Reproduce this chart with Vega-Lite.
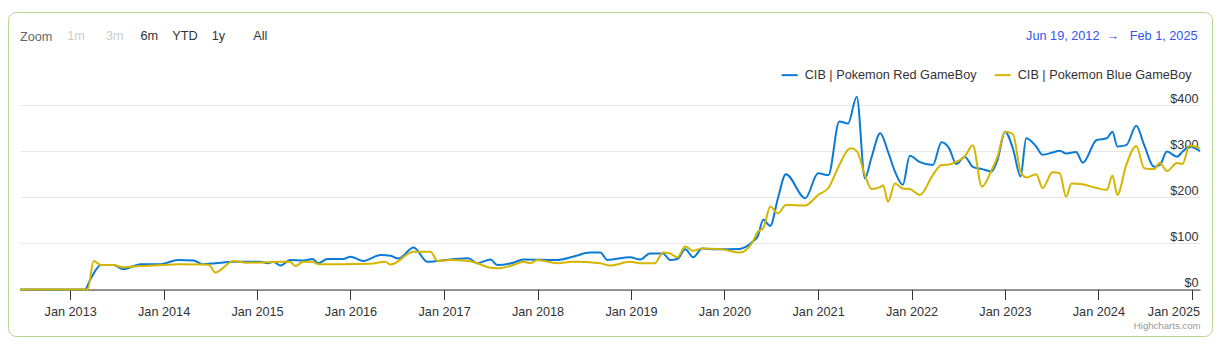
{
  "$schema": "https://vega.github.io/schema/vega-lite/v6.json",
  "width": 1204,
  "height": 324,
  "autosize": {"type": "none"},
  "padding": {"left": 8, "top": 12, "right": 10, "bottom": 15},
  "background": "white",
  "config": {
    "font": "Liberation Sans",
    "view": {"stroke": "#b4d68f", "strokeWidth": 1, "cornerRadius": 8}
  },
  "title": {
    "text": "Zoom",
    "anchor": "start",
    "frame": "group",
    "orient": "top",
    "dx": 12,
    "dy": 42,
    "offset": 0,
    "color": "#666666",
    "font": "Liberation Sans",
    "fontSize": 12.7,
    "fontWeight": "normal",
    "baseline": "alphabetic"
  },
  "data": {
    "values": [
      {"date": "2012-06-19", "series": "CIB | Pokemon Red GameBoy", "price": 0},
      {"date": "2013-02-28", "series": "CIB | Pokemon Red GameBoy", "price": 0},
      {"date": "2013-03-21", "series": "CIB | Pokemon Red GameBoy", "price": 22},
      {"date": "2013-05-01", "series": "CIB | Pokemon Red GameBoy", "price": 53},
      {"date": "2013-06-19", "series": "CIB | Pokemon Red GameBoy", "price": 53},
      {"date": "2013-07-28", "series": "CIB | Pokemon Red GameBoy", "price": 44},
      {"date": "2013-10-03", "series": "CIB | Pokemon Red GameBoy", "price": 55},
      {"date": "2013-12-21", "series": "CIB | Pokemon Red GameBoy", "price": 55},
      {"date": "2014-02-26", "series": "CIB | Pokemon Red GameBoy", "price": 64},
      {"date": "2014-04-28", "series": "CIB | Pokemon Red GameBoy", "price": 63},
      {"date": "2014-06-03", "series": "CIB | Pokemon Red GameBoy", "price": 55},
      {"date": "2014-07-22", "series": "CIB | Pokemon Red GameBoy", "price": 57},
      {"date": "2014-10-01", "series": "CIB | Pokemon Red GameBoy", "price": 60},
      {"date": "2015-01-15", "series": "CIB | Pokemon Red GameBoy", "price": 60},
      {"date": "2015-02-12", "series": "CIB | Pokemon Red GameBoy", "price": 57},
      {"date": "2015-03-06", "series": "CIB | Pokemon Red GameBoy", "price": 60},
      {"date": "2015-04-03", "series": "CIB | Pokemon Red GameBoy", "price": 52},
      {"date": "2015-05-10", "series": "CIB | Pokemon Red GameBoy", "price": 64},
      {"date": "2015-07-01", "series": "CIB | Pokemon Red GameBoy", "price": 63},
      {"date": "2015-08-06", "series": "CIB | Pokemon Red GameBoy", "price": 66},
      {"date": "2015-08-28", "series": "CIB | Pokemon Red GameBoy", "price": 57},
      {"date": "2015-10-03", "series": "CIB | Pokemon Red GameBoy", "price": 66},
      {"date": "2015-12-04", "series": "CIB | Pokemon Red GameBoy", "price": 66},
      {"date": "2016-01-01", "series": "CIB | Pokemon Red GameBoy", "price": 71},
      {"date": "2016-02-21", "series": "CIB | Pokemon Red GameBoy", "price": 62},
      {"date": "2016-04-28", "series": "CIB | Pokemon Red GameBoy", "price": 75},
      {"date": "2016-06-06", "series": "CIB | Pokemon Red GameBoy", "price": 73},
      {"date": "2016-07-06", "series": "CIB | Pokemon Red GameBoy", "price": 67},
      {"date": "2016-09-04", "series": "CIB | Pokemon Red GameBoy", "price": 91},
      {"date": "2016-10-28", "series": "CIB | Pokemon Red GameBoy", "price": 60},
      {"date": "2017-01-25", "series": "CIB | Pokemon Red GameBoy", "price": 65},
      {"date": "2017-04-06", "series": "CIB | Pokemon Red GameBoy", "price": 68},
      {"date": "2017-05-10", "series": "CIB | Pokemon Red GameBoy", "price": 57},
      {"date": "2017-07-01", "series": "CIB | Pokemon Red GameBoy", "price": 65},
      {"date": "2017-07-28", "series": "CIB | Pokemon Red GameBoy", "price": 53},
      {"date": "2017-09-28", "series": "CIB | Pokemon Red GameBoy", "price": 58},
      {"date": "2017-11-06", "series": "CIB | Pokemon Red GameBoy", "price": 65},
      {"date": "2018-03-18", "series": "CIB | Pokemon Red GameBoy", "price": 64},
      {"date": "2018-05-19", "series": "CIB | Pokemon Red GameBoy", "price": 71},
      {"date": "2018-07-25", "series": "CIB | Pokemon Red GameBoy", "price": 80},
      {"date": "2018-09-03", "series": "CIB | Pokemon Red GameBoy", "price": 80},
      {"date": "2018-10-01", "series": "CIB | Pokemon Red GameBoy", "price": 64},
      {"date": "2018-12-28", "series": "CIB | Pokemon Red GameBoy", "price": 70},
      {"date": "2019-02-06", "series": "CIB | Pokemon Red GameBoy", "price": 65},
      {"date": "2019-03-16", "series": "CIB | Pokemon Red GameBoy", "price": 78},
      {"date": "2019-05-06", "series": "CIB | Pokemon Red GameBoy", "price": 78},
      {"date": "2019-06-03", "series": "CIB | Pokemon Red GameBoy", "price": 64},
      {"date": "2019-07-01", "series": "CIB | Pokemon Red GameBoy", "price": 66},
      {"date": "2019-08-01", "series": "CIB | Pokemon Red GameBoy", "price": 87},
      {"date": "2019-09-01", "series": "CIB | Pokemon Red GameBoy", "price": 70},
      {"date": "2019-10-06", "series": "CIB | Pokemon Red GameBoy", "price": 89},
      {"date": "2019-11-25", "series": "CIB | Pokemon Red GameBoy", "price": 87},
      {"date": "2020-03-01", "series": "CIB | Pokemon Red GameBoy", "price": 88},
      {"date": "2020-04-21", "series": "CIB | Pokemon Red GameBoy", "price": 104},
      {"date": "2020-05-10", "series": "CIB | Pokemon Red GameBoy", "price": 115},
      {"date": "2020-06-01", "series": "CIB | Pokemon Red GameBoy", "price": 151},
      {"date": "2020-06-28", "series": "CIB | Pokemon Red GameBoy", "price": 138},
      {"date": "2020-07-28", "series": "CIB | Pokemon Red GameBoy", "price": 198},
      {"date": "2020-08-28", "series": "CIB | Pokemon Red GameBoy", "price": 250},
      {"date": "2020-11-12", "series": "CIB | Pokemon Red GameBoy", "price": 198},
      {"date": "2021-01-01", "series": "CIB | Pokemon Red GameBoy", "price": 252},
      {"date": "2021-02-10", "series": "CIB | Pokemon Red GameBoy", "price": 248},
      {"date": "2021-03-25", "series": "CIB | Pokemon Red GameBoy", "price": 364},
      {"date": "2021-04-28", "series": "CIB | Pokemon Red GameBoy", "price": 360},
      {"date": "2021-06-01", "series": "CIB | Pokemon Red GameBoy", "price": 418},
      {"date": "2021-07-03", "series": "CIB | Pokemon Red GameBoy", "price": 241},
      {"date": "2021-07-28", "series": "CIB | Pokemon Red GameBoy", "price": 285},
      {"date": "2021-09-01", "series": "CIB | Pokemon Red GameBoy", "price": 339},
      {"date": "2021-10-01", "series": "CIB | Pokemon Red GameBoy", "price": 299},
      {"date": "2021-10-28", "series": "CIB | Pokemon Red GameBoy", "price": 256},
      {"date": "2021-11-28", "series": "CIB | Pokemon Red GameBoy", "price": 227},
      {"date": "2021-12-25", "series": "CIB | Pokemon Red GameBoy", "price": 290},
      {"date": "2022-02-03", "series": "CIB | Pokemon Red GameBoy", "price": 276},
      {"date": "2022-03-25", "series": "CIB | Pokemon Red GameBoy", "price": 270},
      {"date": "2022-04-28", "series": "CIB | Pokemon Red GameBoy", "price": 319},
      {"date": "2022-05-28", "series": "CIB | Pokemon Red GameBoy", "price": 306},
      {"date": "2022-06-25", "series": "CIB | Pokemon Red GameBoy", "price": 272},
      {"date": "2022-07-28", "series": "CIB | Pokemon Red GameBoy", "price": 288},
      {"date": "2022-08-28", "series": "CIB | Pokemon Red GameBoy", "price": 266},
      {"date": "2022-10-03", "series": "CIB | Pokemon Red GameBoy", "price": 261},
      {"date": "2022-11-10", "series": "CIB | Pokemon Red GameBoy", "price": 256},
      {"date": "2022-12-03", "series": "CIB | Pokemon Red GameBoy", "price": 281},
      {"date": "2023-01-01", "series": "CIB | Pokemon Red GameBoy", "price": 342},
      {"date": "2023-02-01", "series": "CIB | Pokemon Red GameBoy", "price": 306},
      {"date": "2023-03-03", "series": "CIB | Pokemon Red GameBoy", "price": 245},
      {"date": "2023-03-25", "series": "CIB | Pokemon Red GameBoy", "price": 328},
      {"date": "2023-05-03", "series": "CIB | Pokemon Red GameBoy", "price": 310},
      {"date": "2023-05-28", "series": "CIB | Pokemon Red GameBoy", "price": 292},
      {"date": "2023-07-06", "series": "CIB | Pokemon Red GameBoy", "price": 297},
      {"date": "2023-08-03", "series": "CIB | Pokemon Red GameBoy", "price": 301},
      {"date": "2023-08-28", "series": "CIB | Pokemon Red GameBoy", "price": 295},
      {"date": "2023-10-06", "series": "CIB | Pokemon Red GameBoy", "price": 298},
      {"date": "2023-11-01", "series": "CIB | Pokemon Red GameBoy", "price": 275},
      {"date": "2023-12-25", "series": "CIB | Pokemon Red GameBoy", "price": 324},
      {"date": "2024-02-03", "series": "CIB | Pokemon Red GameBoy", "price": 328},
      {"date": "2024-02-25", "series": "CIB | Pokemon Red GameBoy", "price": 342},
      {"date": "2024-03-15", "series": "CIB | Pokemon Red GameBoy", "price": 310},
      {"date": "2024-04-19", "series": "CIB | Pokemon Red GameBoy", "price": 313},
      {"date": "2024-05-28", "series": "CIB | Pokemon Red GameBoy", "price": 355},
      {"date": "2024-06-28", "series": "CIB | Pokemon Red GameBoy", "price": 313},
      {"date": "2024-08-06", "series": "CIB | Pokemon Red GameBoy", "price": 266},
      {"date": "2024-08-28", "series": "CIB | Pokemon Red GameBoy", "price": 270},
      {"date": "2024-09-25", "series": "CIB | Pokemon Red GameBoy", "price": 299},
      {"date": "2024-11-03", "series": "CIB | Pokemon Red GameBoy", "price": 288},
      {"date": "2024-11-25", "series": "CIB | Pokemon Red GameBoy", "price": 299},
      {"date": "2024-12-22", "series": "CIB | Pokemon Red GameBoy", "price": 310},
      {"date": "2025-02-01", "series": "CIB | Pokemon Red GameBoy", "price": 300},

      {"date": "2012-06-19", "series": "CIB | Pokemon Blue GameBoy", "price": 0},
      {"date": "2013-03-10", "series": "CIB | Pokemon Blue GameBoy", "price": 0},
      {"date": "2013-04-03", "series": "CIB | Pokemon Blue GameBoy", "price": 62},
      {"date": "2013-05-01", "series": "CIB | Pokemon Blue GameBoy", "price": 53},
      {"date": "2013-06-19", "series": "CIB | Pokemon Blue GameBoy", "price": 53},
      {"date": "2013-07-28", "series": "CIB | Pokemon Blue GameBoy", "price": 48},
      {"date": "2013-10-03", "series": "CIB | Pokemon Blue GameBoy", "price": 51},
      {"date": "2013-12-21", "series": "CIB | Pokemon Blue GameBoy", "price": 53},
      {"date": "2014-02-26", "series": "CIB | Pokemon Blue GameBoy", "price": 55},
      {"date": "2014-06-03", "series": "CIB | Pokemon Blue GameBoy", "price": 54},
      {"date": "2014-06-28", "series": "CIB | Pokemon Blue GameBoy", "price": 53},
      {"date": "2014-07-22", "series": "CIB | Pokemon Blue GameBoy", "price": 37},
      {"date": "2014-10-01", "series": "CIB | Pokemon Blue GameBoy", "price": 62},
      {"date": "2014-11-18", "series": "CIB | Pokemon Blue GameBoy", "price": 58},
      {"date": "2015-02-12", "series": "CIB | Pokemon Blue GameBoy", "price": 59},
      {"date": "2015-04-03", "series": "CIB | Pokemon Blue GameBoy", "price": 60},
      {"date": "2015-05-10", "series": "CIB | Pokemon Blue GameBoy", "price": 60},
      {"date": "2015-05-31", "series": "CIB | Pokemon Blue GameBoy", "price": 51},
      {"date": "2015-07-01", "series": "CIB | Pokemon Blue GameBoy", "price": 60},
      {"date": "2015-08-06", "series": "CIB | Pokemon Blue GameBoy", "price": 60},
      {"date": "2015-08-28", "series": "CIB | Pokemon Blue GameBoy", "price": 55},
      {"date": "2015-12-04", "series": "CIB | Pokemon Blue GameBoy", "price": 55},
      {"date": "2016-03-18", "series": "CIB | Pokemon Blue GameBoy", "price": 56},
      {"date": "2016-05-16", "series": "CIB | Pokemon Blue GameBoy", "price": 60},
      {"date": "2016-06-06", "series": "CIB | Pokemon Blue GameBoy", "price": 54},
      {"date": "2016-09-04", "series": "CIB | Pokemon Blue GameBoy", "price": 82},
      {"date": "2016-11-09", "series": "CIB | Pokemon Blue GameBoy", "price": 82},
      {"date": "2016-12-06", "series": "CIB | Pokemon Blue GameBoy", "price": 62},
      {"date": "2017-01-25", "series": "CIB | Pokemon Blue GameBoy", "price": 64},
      {"date": "2017-04-06", "series": "CIB | Pokemon Blue GameBoy", "price": 62},
      {"date": "2017-05-10", "series": "CIB | Pokemon Blue GameBoy", "price": 57},
      {"date": "2017-07-01", "series": "CIB | Pokemon Blue GameBoy", "price": 47},
      {"date": "2017-07-28", "series": "CIB | Pokemon Blue GameBoy", "price": 46},
      {"date": "2017-09-28", "series": "CIB | Pokemon Blue GameBoy", "price": 53},
      {"date": "2017-11-06", "series": "CIB | Pokemon Blue GameBoy", "price": 60},
      {"date": "2017-12-04", "series": "CIB | Pokemon Blue GameBoy", "price": 57},
      {"date": "2018-01-01", "series": "CIB | Pokemon Blue GameBoy", "price": 64},
      {"date": "2018-03-18", "series": "CIB | Pokemon Blue GameBoy", "price": 57},
      {"date": "2018-05-19", "series": "CIB | Pokemon Blue GameBoy", "price": 60},
      {"date": "2018-09-03", "series": "CIB | Pokemon Blue GameBoy", "price": 57},
      {"date": "2018-10-10", "series": "CIB | Pokemon Blue GameBoy", "price": 52},
      {"date": "2018-12-28", "series": "CIB | Pokemon Blue GameBoy", "price": 60},
      {"date": "2019-02-06", "series": "CIB | Pokemon Blue GameBoy", "price": 57},
      {"date": "2019-04-04", "series": "CIB | Pokemon Blue GameBoy", "price": 57},
      {"date": "2019-05-06", "series": "CIB | Pokemon Blue GameBoy", "price": 80},
      {"date": "2019-06-03", "series": "CIB | Pokemon Blue GameBoy", "price": 78},
      {"date": "2019-07-01", "series": "CIB | Pokemon Blue GameBoy", "price": 70},
      {"date": "2019-08-01", "series": "CIB | Pokemon Blue GameBoy", "price": 93},
      {"date": "2019-09-01", "series": "CIB | Pokemon Blue GameBoy", "price": 84},
      {"date": "2019-10-06", "series": "CIB | Pokemon Blue GameBoy", "price": 89},
      {"date": "2019-12-25", "series": "CIB | Pokemon Blue GameBoy", "price": 87},
      {"date": "2020-03-01", "series": "CIB | Pokemon Blue GameBoy", "price": 80},
      {"date": "2020-04-21", "series": "CIB | Pokemon Blue GameBoy", "price": 104},
      {"date": "2020-05-10", "series": "CIB | Pokemon Blue GameBoy", "price": 125},
      {"date": "2020-06-01", "series": "CIB | Pokemon Blue GameBoy", "price": 133},
      {"date": "2020-06-28", "series": "CIB | Pokemon Blue GameBoy", "price": 180},
      {"date": "2020-07-28", "series": "CIB | Pokemon Blue GameBoy", "price": 165},
      {"date": "2020-08-28", "series": "CIB | Pokemon Blue GameBoy", "price": 183},
      {"date": "2020-11-12", "series": "CIB | Pokemon Blue GameBoy", "price": 182},
      {"date": "2021-01-01", "series": "CIB | Pokemon Blue GameBoy", "price": 205},
      {"date": "2021-02-10", "series": "CIB | Pokemon Blue GameBoy", "price": 220},
      {"date": "2021-03-25", "series": "CIB | Pokemon Blue GameBoy", "price": 270},
      {"date": "2021-04-28", "series": "CIB | Pokemon Blue GameBoy", "price": 303},
      {"date": "2021-05-09", "series": "CIB | Pokemon Blue GameBoy", "price": 306},
      {"date": "2021-06-01", "series": "CIB | Pokemon Blue GameBoy", "price": 300},
      {"date": "2021-07-03", "series": "CIB | Pokemon Blue GameBoy", "price": 248},
      {"date": "2021-07-28", "series": "CIB | Pokemon Blue GameBoy", "price": 218},
      {"date": "2021-09-01", "series": "CIB | Pokemon Blue GameBoy", "price": 222},
      {"date": "2021-09-12", "series": "CIB | Pokemon Blue GameBoy", "price": 226},
      {"date": "2021-10-01", "series": "CIB | Pokemon Blue GameBoy", "price": 190},
      {"date": "2021-10-28", "series": "CIB | Pokemon Blue GameBoy", "price": 230},
      {"date": "2021-11-28", "series": "CIB | Pokemon Blue GameBoy", "price": 219},
      {"date": "2021-12-25", "series": "CIB | Pokemon Blue GameBoy", "price": 218},
      {"date": "2022-02-03", "series": "CIB | Pokemon Blue GameBoy", "price": 205},
      {"date": "2022-03-25", "series": "CIB | Pokemon Blue GameBoy", "price": 248},
      {"date": "2022-04-28", "series": "CIB | Pokemon Blue GameBoy", "price": 270},
      {"date": "2022-05-28", "series": "CIB | Pokemon Blue GameBoy", "price": 271},
      {"date": "2022-06-25", "series": "CIB | Pokemon Blue GameBoy", "price": 277},
      {"date": "2022-07-28", "series": "CIB | Pokemon Blue GameBoy", "price": 288},
      {"date": "2022-08-28", "series": "CIB | Pokemon Blue GameBoy", "price": 313},
      {"date": "2022-10-03", "series": "CIB | Pokemon Blue GameBoy", "price": 223},
      {"date": "2022-11-10", "series": "CIB | Pokemon Blue GameBoy", "price": 259},
      {"date": "2022-12-03", "series": "CIB | Pokemon Blue GameBoy", "price": 288},
      {"date": "2023-01-01", "series": "CIB | Pokemon Blue GameBoy", "price": 342},
      {"date": "2023-02-01", "series": "CIB | Pokemon Blue GameBoy", "price": 337},
      {"date": "2023-03-03", "series": "CIB | Pokemon Blue GameBoy", "price": 256},
      {"date": "2023-03-25", "series": "CIB | Pokemon Blue GameBoy", "price": 243},
      {"date": "2023-05-03", "series": "CIB | Pokemon Blue GameBoy", "price": 250},
      {"date": "2023-05-28", "series": "CIB | Pokemon Blue GameBoy", "price": 220},
      {"date": "2023-07-06", "series": "CIB | Pokemon Blue GameBoy", "price": 254},
      {"date": "2023-08-03", "series": "CIB | Pokemon Blue GameBoy", "price": 252},
      {"date": "2023-08-28", "series": "CIB | Pokemon Blue GameBoy", "price": 201},
      {"date": "2023-09-18", "series": "CIB | Pokemon Blue GameBoy", "price": 230},
      {"date": "2023-11-01", "series": "CIB | Pokemon Blue GameBoy", "price": 228},
      {"date": "2023-12-25", "series": "CIB | Pokemon Blue GameBoy", "price": 220},
      {"date": "2024-02-03", "series": "CIB | Pokemon Blue GameBoy", "price": 216},
      {"date": "2024-02-25", "series": "CIB | Pokemon Blue GameBoy", "price": 247},
      {"date": "2024-03-15", "series": "CIB | Pokemon Blue GameBoy", "price": 205},
      {"date": "2024-04-19", "series": "CIB | Pokemon Blue GameBoy", "price": 270},
      {"date": "2024-05-28", "series": "CIB | Pokemon Blue GameBoy", "price": 311},
      {"date": "2024-06-28", "series": "CIB | Pokemon Blue GameBoy", "price": 263},
      {"date": "2024-08-06", "series": "CIB | Pokemon Blue GameBoy", "price": 261},
      {"date": "2024-08-28", "series": "CIB | Pokemon Blue GameBoy", "price": 274},
      {"date": "2024-09-25", "series": "CIB | Pokemon Blue GameBoy", "price": 257},
      {"date": "2024-11-03", "series": "CIB | Pokemon Blue GameBoy", "price": 274},
      {"date": "2024-11-25", "series": "CIB | Pokemon Blue GameBoy", "price": 272},
      {"date": "2024-12-22", "series": "CIB | Pokemon Blue GameBoy", "price": 312},
      {"date": "2025-02-01", "series": "CIB | Pokemon Blue GameBoy", "price": 306}
    ]
  },
  "resolve": {"scale": {"x": "independent", "y": "independent"}},
  "layer": [
    {
      "transform": [{"filter": {"field": "series", "equal": "CIB | Pokemon Red GameBoy"}}],
      "mark": {"type": "line", "interpolate": "monotone", "strokeWidth": 2},
      "encoding": {
        "x": {
          "field": "date",
          "type": "temporal",
          "scale": {
            "type": "utc",
            "domain": [{"year": 2012, "month": 6, "date": 19, "utc": true}, {"year": 2025, "month": 2, "date": 1, "utc": true}],
            "range": [12, 1192]
          },
          "axis": {
            "orient": "bottom",
            "offset": -46.5,
            "values": [
              {"year": 2013, "utc": true}, {"year": 2014, "utc": true}, {"year": 2015, "utc": true},
              {"year": 2016, "utc": true}, {"year": 2017, "utc": true}, {"year": 2018, "utc": true},
              {"year": 2019, "utc": true}, {"year": 2020, "utc": true}, {"year": 2021, "utc": true},
              {"year": 2022, "utc": true}, {"year": 2023, "utc": true}, {"year": 2024, "utc": true},
              {"year": 2025, "utc": true}
            ],
            "format": "%b %Y",
            "grid": false,
            "domain": true,
            "domainColor": "#333333",
            "domainWidth": 1,
            "ticks": true,
            "tickColor": "#333333",
            "tickSize": 10,
            "tickWidth": 1,
            "labelColor": "#333333",
            "labelFont": "Liberation Sans",
            "labelFontSize": 12.7,
            "labelPadding": 6,
            "labelFlush": 20,
            "labelFlushOffset": 7.5,
            "labelOverlap": false,
            "title": "Highcharts.com",
            "titleColor": "#999999",
            "titleFont": "Liberation Sans",
            "titleFontSize": 9.6,
            "titleFontWeight": "normal",
            "titleAlign": "right",
            "titleBaseline": "alphabetic",
            "titleX": 1192,
            "titleY": 38.5
          }
        },
        "y": {
          "field": "price",
          "type": "quantitative",
          "scale": {"domain": [0, 400], "range": [277.5, 93], "nice": false},
          "axis": {
            "orient": "right",
            "offset": -14,
            "values": [0, 100, 200, 300, 400],
            "format": "$,.0f",
            "domain": false,
            "ticks": false,
            "grid": true,
            "gridColor": "#e6e6e6",
            "gridWidth": 1,
            "labelAlign": "right",
            "labelBaseline": "alphabetic",
            "labelOffset": -3,
            "labelPadding": 0,
            "labelColor": "#333333",
            "labelFont": "Liberation Sans",
            "labelFontSize": 12.7,
            "title": "Jun 19, 2012\u00a0\u00a0\u2192\u00a0\u00a0\u00a0Feb 1, 2025",
            "titleAngle": 0,
            "titleAlign": "right",
            "titleBaseline": "alphabetic",
            "titleX": -1,
            "titleY": 27,
            "titleColor": "#3355ee",
            "titleFont": "Liberation Sans",
            "titleFontSize": 12.7,
            "titleFontWeight": "normal"
          }
        },
        "color": {
          "field": "series",
          "type": "nominal",
          "scale": {
            "domain": ["CIB | Pokemon Red GameBoy", "CIB | Pokemon Blue GameBoy"],
            "range": ["#0b7ad5", "#d4b500"]
          },
          "legend": {
            "orient": "none",
            "legendX": 772.7,
            "legendY": 54,
            "direction": "horizontal",
            "title": null,
            "padding": 0,
            "symbolType": "stroke",
            "symbolSize": 256,
            "symbolStrokeWidth": 2,
            "labelFont": "Liberation Sans",
            "labelFontSize": 12.7,
            "labelColor": "#333333",
            "labelOffset": 6,
            "labelLimit": 300,
            "columnPadding": 14
          }
        }
      }
    },
    {
      "transform": [{"filter": {"field": "series", "equal": "CIB | Pokemon Blue GameBoy"}}],
      "mark": {"type": "line", "interpolate": "monotone", "strokeWidth": 2},
      "encoding": {
        "x": {
          "field": "date",
          "type": "temporal",
          "scale": {
            "type": "utc",
            "domain": [{"year": 2012, "month": 6, "date": 19, "utc": true}, {"year": 2025, "month": 2, "date": 1, "utc": true}],
            "range": [12, 1192]
          },
          "axis": {
            "orient": "top",
            "labels": false,
            "ticks": false,
            "domain": false,
            "grid": false,
            "title": "6m\u00a0\u00a0\u00a0\u00a0YTD\u00a0\u00a0\u00a0\u00a01y\u00a0\u00a0\u00a0\u00a0\u00a0\u00a0\u00a0\u00a0All",
            "titleAlign": "left",
            "titleAnchor": null,
            "titleBaseline": "alphabetic",
            "titleX": 132,
            "titleY": 27.5,
            "titleColor": "#333333",
            "titleFont": "Liberation Sans",
            "titleFontSize": 12.7,
            "titleFontWeight": "normal"
          }
        },
        "y": {
          "field": "price",
          "type": "quantitative",
          "scale": {"domain": [0, 400], "range": [277.5, 93], "nice": false},
          "axis": {
            "orient": "left",
            "labels": false,
            "ticks": false,
            "domain": false,
            "grid": false,
            "title": "1m\u00a0\u00a0\u00a0\u00a0\u00a0\u00a03m",
            "titleAngle": 0,
            "titleAlign": "left",
            "titleBaseline": "alphabetic",
            "titleX": 58.7,
            "titleY": 27.5,
            "titleColor": "#cccccc",
            "titleFont": "Liberation Sans",
            "titleFontSize": 12.7,
            "titleFontWeight": "normal"
          }
        },
        "color": {
          "field": "series",
          "type": "nominal",
          "scale": {
            "domain": ["CIB | Pokemon Red GameBoy", "CIB | Pokemon Blue GameBoy"],
            "range": ["#0b7ad5", "#d4b500"]
          },
          "legend": {
            "orient": "none",
            "legendX": 772.7,
            "legendY": 54,
            "direction": "horizontal",
            "title": null,
            "padding": 0,
            "symbolType": "stroke",
            "symbolSize": 256,
            "symbolStrokeWidth": 2,
            "labelFont": "Liberation Sans",
            "labelFontSize": 12.7,
            "labelColor": "#333333",
            "labelOffset": 6,
            "labelLimit": 300,
            "columnPadding": 14
          }
        }
      }
    }
  ]
}
